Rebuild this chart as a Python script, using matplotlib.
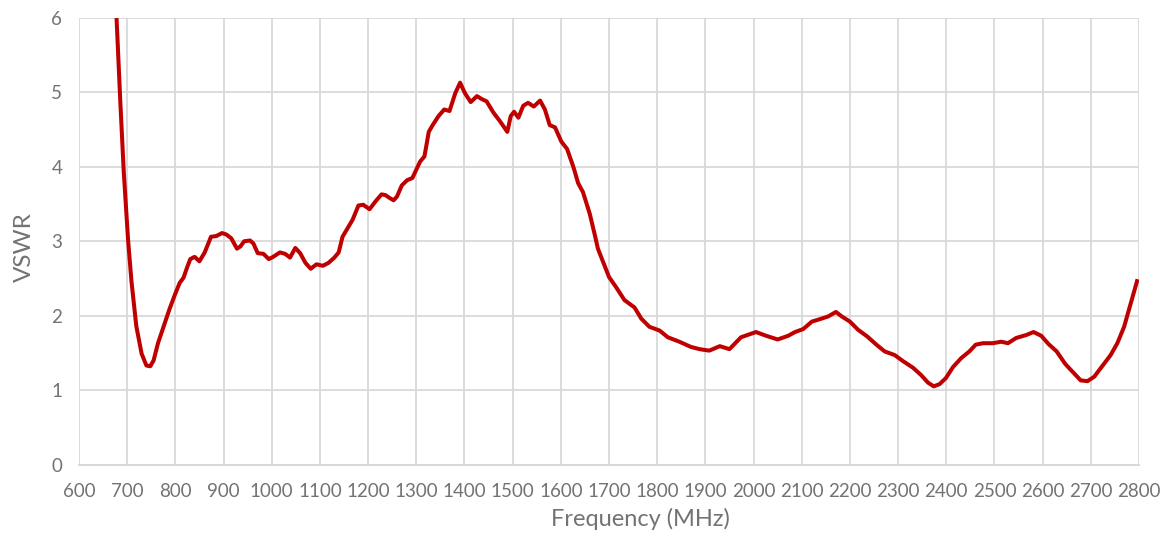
"""VSWR versus frequency sweep."""
import matplotlib
matplotlib.use("Agg")
import matplotlib.pyplot as plt

freq = [
    678, 686, 693, 702, 709, 719, 730, 740, 748, 755, 764, 774, 788, 799,
    809, 817, 824, 831, 840, 850, 861, 874, 885, 897, 906, 916, 928, 935,
    943, 955, 962, 971, 983, 994, 1003, 1017, 1028, 1038, 1049, 1059, 1070,
    1081, 1093, 1106, 1118, 1130, 1139, 1147, 1157, 1168, 1180, 1190, 1203,
    1216, 1228, 1236, 1245, 1253, 1260, 1270, 1281, 1292, 1300, 1308, 1317,
    1326, 1334, 1346, 1358, 1369, 1381, 1391, 1401, 1413, 1426, 1436, 1446,
    1460, 1474, 1489, 1496, 1503, 1512, 1522, 1532, 1544, 1557, 1567, 1577,
    1588, 1601, 1613, 1626, 1636, 1646, 1660, 1670, 1677, 1688, 1700, 1715,
    1732, 1753, 1767, 1784, 1805, 1822, 1846, 1870, 1888, 1908, 1930, 1950,
    1974, 2005, 2026, 2050, 2072, 2086, 2103, 2121, 2141, 2155, 2171, 2183,
    2200, 2217, 2236, 2255, 2272, 2293, 2310, 2331, 2348, 2362, 2374, 2386,
    2399, 2414, 2431, 2448, 2461, 2476, 2497, 2514, 2528, 2545, 2566, 2581,
    2597, 2612, 2629, 2647, 2666, 2679, 2693, 2707, 2721, 2741, 2755, 2769,
    2783, 2797,
]
vswr = [
    6.00, 4.85, 3.93, 3.01, 2.46, 1.86, 1.49, 1.33, 1.32, 1.40, 1.63, 1.82,
    2.09, 2.28, 2.44, 2.51, 2.64, 2.76, 2.79, 2.73, 2.85, 3.06, 3.07, 3.11,
    3.09, 3.04, 2.90, 2.93, 3.00, 3.01, 2.97, 2.84, 2.83, 2.76, 2.79, 2.85,
    2.83, 2.78, 2.91, 2.84, 2.71, 2.63, 2.69, 2.67, 2.71, 2.78, 2.85, 3.06,
    3.17, 3.29, 3.48, 3.49, 3.43, 3.54, 3.63, 3.62, 3.58, 3.55, 3.60, 3.75,
    3.82, 3.85, 3.96, 4.07, 4.14, 4.47, 4.56, 4.68, 4.77, 4.75, 4.99, 5.13,
    4.99, 4.87, 4.95, 4.91, 4.88, 4.73, 4.61, 4.47, 4.68, 4.74, 4.66, 4.82,
    4.86, 4.81, 4.89, 4.77, 4.56, 4.53, 4.34, 4.24, 4.00, 3.78, 3.66, 3.37,
    3.10, 2.90, 2.72, 2.52, 2.38, 2.21, 2.11, 1.96, 1.85, 1.80, 1.71, 1.65,
    1.58, 1.55, 1.53, 1.59, 1.55, 1.71, 1.78, 1.73, 1.68, 1.73, 1.78, 1.82,
    1.92, 1.96, 1.99, 2.05, 1.99, 1.92, 1.81, 1.72, 1.61, 1.52, 1.47, 1.39,
    1.30, 1.20, 1.10, 1.05, 1.08, 1.16, 1.31, 1.43, 1.52, 1.61, 1.63, 1.63,
    1.65, 1.63, 1.70, 1.74, 1.78, 1.73, 1.62, 1.52, 1.35, 1.22, 1.13, 1.12,
    1.18, 1.30, 1.47, 1.63, 1.85, 2.17, 2.49,
]

x_ticks = list(range(600, 2801, 100))
y_ticks = list(range(0, 7))

plt.rcParams["font.family"] = ["Lato", "DejaVu Sans"]
text_grey = "#737373"
grid_grey = "#D9D9D9"

fig = plt.figure(figsize=(11.68, 5.38), dpi=100)
ax = fig.add_axes([0.0676, 0.1366, 0.9076, 0.83])

ax.plot(freq, vswr, color="#C00000", linewidth=2.9,
        solid_joinstyle="round", solid_capstyle="butt", zorder=3)

ax.set_xlim(600, 2800)
ax.set_ylim(0, 6)
ax.set_xticks(x_ticks)
ax.set_yticks(y_ticks)
ax.grid(True, color=grid_grey, linewidth=1.3)
ax.set_axisbelow(True)

for side in ("top", "right", "left"):
    ax.spines[side].set_visible(False)
ax.spines["bottom"].set_color(grid_grey)
ax.spines["bottom"].set_linewidth(1.5)

ax.tick_params(axis="both", length=0, labelsize=13.5, colors=text_grey)
ax.tick_params(axis="x", pad=13)
ax.tick_params(axis="y", pad=12)

ax.set_xlabel("Frequency (MHz)", fontsize=17, color=text_grey)
ax.set_ylabel("VSWR", fontsize=17.5, color=text_grey)
# Excel puts the titles a little off the plot centre
ax.xaxis.set_label_coords(0.530, -0.097)
ax.yaxis.set_label_coords(-0.042, 0.487)

fig.savefig("out.png", dpi=100)
